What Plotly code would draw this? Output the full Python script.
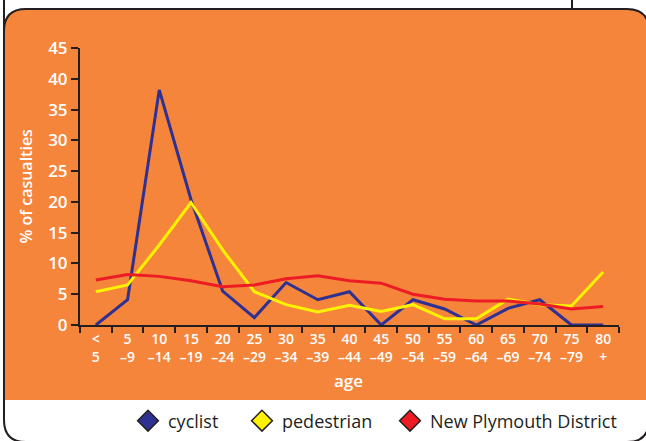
import plotly.graph_objects as go

# ---- data ----
age_labels = ["<<br>5", "5<br>–9", "10<br>–14", "15<br>–19", "20<br>–24", "25<br>–29",
              "30<br>–34", "35<br>–39", "40<br>–44", "45<br>–49", "50<br>–54", "55<br>–59",
              "60<br>–64", "65<br>–69", "70<br>–74", "75<br>–79", "80<br>+"]
cyclist = [0, 4.1, 38.2, 20.4, 5.5, 1.2, 6.9, 4.1, 5.4, 0, 4.1, 2.6, 0, 2.7, 4.1, 0, 0]
pedestrian = [5.4, 6.5, 13.0, 19.9, 12.2, 5.4, 3.3, 2.1, 3.2, 2.2, 3.3, 1.0, 1.0, 4.2, 3.3, 3.1, 8.6]
district = [7.3, 8.2, 7.9, 7.2, 6.2, 6.5, 7.5, 8.0, 7.2, 6.8, 5.0, 4.2, 3.9, 3.9, 3.4, 2.6, 3.0]
y_ticks = [0, 5, 10, 15, 20, 25, 30, 35, 40, 45]

BLUE = "#2E3192"
YELLOW = "#FFF200"
RED = "#ED1C24"
ORANGE = "#F5853B"
DARK = "#231F20"
FONT = "Open Sans"

W, H = 646, 441
ML, MR, MT, MB = 80, 27, 48, 116
PW = W - ML - MR
PH = H - MT - MB


def px(x):
    return (x - ML) / PW


def py(y):
    return (H - MB - y) / PH


def P(x, y):
    return f"{px(x):.5f},{py(y):.5f}"


xs = list(range(len(age_labels)))

fig = go.Figure()
for name, vals, col in [("cyclist", cyclist, BLUE),
                        ("pedestrian", pedestrian, YELLOW),
                        ("New Plymouth District", district, RED)]:
    fig.add_trace(go.Scatter(x=xs, y=vals, mode="lines", name=name,
                             line=dict(color=col, width=3),
                             showlegend=False, cliponaxis=False, hoverinfo="skip"))
for name, col, lw in [("cyclist", BLUE, 69), ("pedestrian", YELLOW, 103),
                      ("New Plymouth District", RED, None)]:
    fig.add_trace(go.Scatter(x=[None], y=[None], mode="markers", name=name,
                             legendwidth=lw,
                             marker=dict(symbol="diamond", size=16, color=col,
                                         line=dict(color=DARK, width=1.5))))

# frame shapes
L, R, T, B, RAD = 4, 649, 9, 442, 22
OB = 400
orange_path = (f"M {P(L, OB)} L {P(L, T + RAD)} Q {P(L, T)} {P(L + RAD, T)} "
               f"L {P(R - RAD, T)} Q {P(R, T)} {P(R, T + RAD)} L {P(R, OB)} Z")
frame_path = (f"M {P(L, T + RAD)} Q {P(L, T)} {P(L + RAD, T)} L {P(R - RAD, T)} "
              f"Q {P(R, T)} {P(R, T + RAD)} L {P(R, B - RAD)} Q {P(R, B)} {P(R - RAD, B)} "
              f"L {P(L + RAD, B)} Q {P(L, B)} {P(L, B - RAD)} Z")
shapes = [
    dict(type="path", xref="paper", yref="paper", path=orange_path,
         fillcolor=ORANGE, line=dict(width=0), layer="below"),
    dict(type="path", xref="paper", yref="paper", path=frame_path,
         fillcolor="rgba(0,0,0,0)", line=dict(color=DARK, width=2), layer="below"),
    dict(type="line", xref="paper", yref="paper", x0=px(4), x1=px(4), y0=py(0), y1=py(T + RAD),
         line=dict(color=DARK, width=2), layer="below"),
    dict(type="line", xref="paper", yref="paper", x0=px(572), x1=px(572), y0=py(0), y1=py(T),
         line=dict(color=DARK, width=2), layer="below"),
]

fig.update_layout(
    width=W, height=H,
    margin=dict(l=ML, r=MR, t=MT, b=MB, pad=0, autoexpand=False),
    paper_bgcolor="white",
    plot_bgcolor="rgba(0,0,0,0)",
    font=dict(family=FONT, color="white"),
    shapes=shapes,
    showlegend=True,
    legend=dict(orientation="h", x=px(128), y=py(421), xanchor="left", yanchor="middle",
                font=dict(family=FONT, size=18, color=DARK),
                bgcolor="rgba(0,0,0,0)", itemclick=False),
    xaxis=dict(range=[-0.5, 16.5], tickmode="array", tickvals=xs, ticktext=age_labels,
               ticks="", showgrid=False, zeroline=False, showline=True,
               linecolor=DARK, linewidth=2, layer="below traces",
               tickfont=dict(family=FONT, size=14, color="white", weight=600),
               minor=dict(ticks="outside", tick0=-0.5, dtick=1, ticklen=6,
                          tickcolor=DARK, tickwidth=2, showgrid=False)),
    yaxis=dict(range=[0, 45], tickmode="array", tickvals=y_ticks,
               ticks="outside", ticklen=7, tickwidth=2, tickcolor=DARK,
               showgrid=False, zeroline=False, showline=True,
               linecolor=DARK, linewidth=2, layer="below traces",
               tickfont=dict(family=FONT, size=17, color="white", weight=600)),
    annotations=[
        dict(text="% of casualties", xref="paper", yref="paper", x=px(25.5), y=py(186),
             textangle=-90, showarrow=False,
             font=dict(family=FONT, size=16, color="white", weight=600),
             xanchor="center", yanchor="middle"),
        dict(text="age", xref="paper", yref="paper", x=px(348), y=py(380),
             showarrow=False, font=dict(family=FONT, size=17, color="white", weight=600),
             xanchor="center", yanchor="middle"),
    ],
)

fig.write_html("out.html", config={"displayModeBar": False, "staticPlot": True},
               post_script="document.body.style.margin='0';document.body.style.overflow='hidden';")
